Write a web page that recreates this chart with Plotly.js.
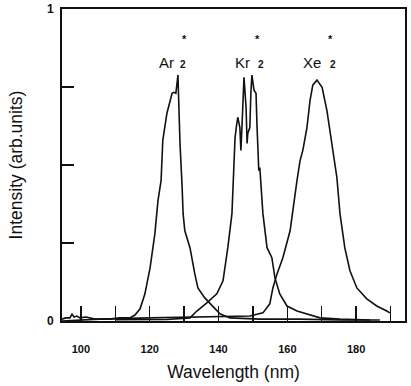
<!DOCTYPE html>
<html>
<head>
<meta charset="utf-8">
<script src="https://cdn.plot.ly/plotly-3.0.1.min.js"></script>
<style>html,body{margin:0;padding:0;background:#fff;}#chart{width:411px;height:386px;}</style>
</head>
<body>
<div id="chart"></div>
<script>
// Ar2* emission
const arWavelength = [94.5, 95.6, 96.8, 97.4, 98.0, 98.8, 99.7, 101.5, 104.1, 108.4, 111.3, 114.2, 115.7, 117.2, 118.6, 120.1, 121.5, 122.4, 123.3, 123.8, 125.0, 125.9, 126.5, 127.0, 127.6, 128.2, 128.5, 128.8, 129.4, 129.7, 130.2, 131.7, 133.1, 134.0, 136.0, 138.4, 140.4, 143.3, 152.0, 163.7, 175.3, 186.9];
const arIntensity  = [0.006, 0.010, 0.010, 0.022, 0.013, 0.016, 0.010, 0.013, 0.006, 0.006, 0.010, 0.010, 0.019, 0.039, 0.087, 0.170, 0.280, 0.386, 0.450, 0.579, 0.666, 0.707, 0.730, 0.733, 0.730, 0.788, 0.675, 0.569, 0.434, 0.344, 0.289, 0.235, 0.151, 0.106, 0.074, 0.048, 0.023, 0.010, 0.006, 0.006, 0.003, 0.003];

// Kr2* emission
const krWavelength = [110.0, 125.0, 131.7, 133.7, 136.6, 139.5, 141.3, 142.7, 143.9, 144.2, 144.5, 144.8, 145.3, 145.6, 146.2, 146.5, 146.8, 147.1, 147.4, 148.0, 148.3, 148.5, 149.1, 149.4, 149.7, 150.3, 150.9, 151.2, 151.5, 151.7, 152.0, 152.3, 152.9, 154.1, 155.5, 156.4, 157.8, 159.9, 162.8, 169.5, 175.3, 184.0];
const krIntensity  = [0.004, 0.005, 0.010, 0.032, 0.058, 0.087, 0.129, 0.235, 0.344, 0.450, 0.514, 0.588, 0.633, 0.653, 0.620, 0.547, 0.620, 0.698, 0.781, 0.685, 0.569, 0.601, 0.620, 0.730, 0.788, 0.740, 0.730, 0.620, 0.514, 0.482, 0.492, 0.450, 0.344, 0.235, 0.203, 0.138, 0.087, 0.048, 0.032, 0.010, 0.006, 0.003];

// Xe2* emission
const xeWavelength = [94.5, 105.5, 120.1, 134.6, 143.3, 149.1, 152.9, 154.9, 155.8, 157.0, 158.7, 160.8, 162.8, 163.7, 164.5, 165.7, 166.6, 167.4, 168.6, 170.1, 171.5, 173.0, 174.4, 175.3, 176.7, 178.2, 180.2, 183.1, 186.0, 188.9, 189.8];
const xeIntensity  = [0.000, 0.006, 0.010, 0.013, 0.013, 0.016, 0.026, 0.055, 0.106, 0.151, 0.203, 0.289, 0.450, 0.514, 0.547, 0.620, 0.707, 0.756, 0.772, 0.749, 0.675, 0.569, 0.460, 0.344, 0.235, 0.161, 0.106, 0.071, 0.048, 0.032, 0.026];

// Axis ticks
const xTickValues = [100, 110, 120, 130, 140, 150, 160, 170, 180, 190];
const xTickLabels = ['100', '', '120', '', '140', '', '160', '', '180', ''];
const yTickValues = [0, 0.25, 0.5, 0.75, 1];
const yTickLabels = ['0', '', '', '', '1'];

// Species labels
const speciesNames = ['Ar', 'Kr', 'Xe'];
const speciesNameX = [125.0, 147.1, 167.3];
const speciesSubX  = [129.6, 152.2, 173.4];
const speciesStarX = [130.0, 151.2, 172.4];

const lineStyle = {color: '#111', width: 1.6};
const traces = [
  {x: arWavelength, y: arIntensity, mode: 'lines', line: lineStyle, name: 'Ar2*'},
  {x: krWavelength, y: krIntensity, mode: 'lines', line: lineStyle, name: 'Kr2*'},
  {x: xeWavelength, y: xeIntensity, mode: 'lines', line: lineStyle, name: 'Xe2*'}
];

const annotations = [];
speciesNames.forEach((n, i) => {
  annotations.push({x: speciesNameX[i], y: 0.83, xref: 'x', yref: 'y', text: n, showarrow: false,
    font: {family: 'Liberation Sans, Arial, sans-serif', size: 15, color: '#111'}});
  annotations.push({x: speciesSubX[i], y: 0.823, xref: 'x', yref: 'y', text: '2', showarrow: false,
    font: {family: 'Liberation Sans, Arial, sans-serif', size: 10, color: '#111', weight: 'bold'}});
  annotations.push({x: speciesStarX[i], y: 0.905, xref: 'x', yref: 'y', text: '*', showarrow: false,
    font: {family: 'Liberation Sans, Arial, sans-serif', size: 11, color: '#111', weight: 'bold'}});
});

const layout = {
  width: 411, height: 386,
  margin: {l: 62, r: 6, t: 9, b: 65},
  paper_bgcolor: '#fff', plot_bgcolor: '#fff',
  showlegend: false,
  font: {family: 'Liberation Sans, Arial, sans-serif', color: '#111'},
  xaxis: {
    range: [94.5, 194.2], showgrid: false, zeroline: false,
    showline: true, linecolor: '#111', linewidth: 2, mirror: true,
    ticks: 'inside', ticklen: 15, tickwidth: 1.5, tickcolor: '#111',
    tickvals: xTickValues, ticktext: xTickLabels,
    tickfont: {size: 11, weight: 'bold', color: '#111'},
    ticklabelstandoff: 17,
    title: {text: 'Wavelength (nm)', font: {size: 17.5, color: '#111'}, standoff: 12}
  },
  yaxis: {
    range: [0, 1], showgrid: false, zeroline: false,
    showline: true, linecolor: '#111', linewidth: 2, mirror: true,
    ticks: 'inside', ticklen: 12, tickwidth: 1.5, tickcolor: '#111',
    tickvals: yTickValues, ticktext: yTickLabels,
    tickfont: {size: 12, weight: 'bold', color: '#111'},
    ticklabelstandoff: 4,
    title: {text: 'Intensity (arb.units)', font: {size: 17.5, color: '#111'}, standoff: 20}
  },
  annotations: annotations
};

Plotly.newPlot('chart', traces, layout, {displayModeBar: false, staticPlot: true});
</script>
</body>
</html>
